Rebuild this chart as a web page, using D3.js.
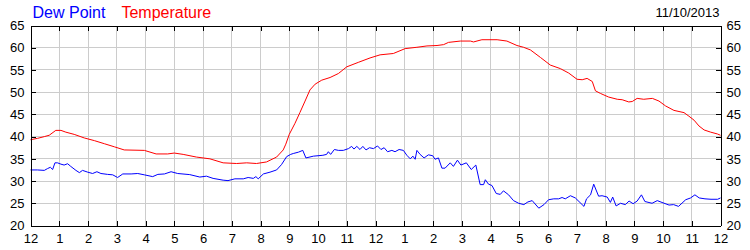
<!DOCTYPE html>
<html>
<head>
<meta charset="utf-8">
<script src="https://cdn.jsdelivr.net/npm/d3@7"></script>
<style>
  body { margin: 0; background: #fff; }
  svg { display: block; font-family: "Liberation Sans", Arial, sans-serif; }
</style>
</head>
<body>
<div id="chart"></div>
<script>
// hour labels along the bottom (12 am .. 12 am next day)
const hourLabels = ["12","1","2","3","4","5","6","7","8","9","10","11",
                    "12","1","2","3","4","5","6","7","8","9","10","11","12"];
const yTicks = [20, 25, 30, 35, 40, 45, 50, 55, 60, 65];
const chartDate = "11/10/2013";

// temperature readings: hours since midnight / deg F
const tempHours = [0, 0.24, 0.48, 0.65, 0.88, 1.06, 1.23, 1.52, 1.87, 2.22, 2.57, 2.92, 3.26, 3.96,
  4.37, 4.77, 5.0, 5.31, 5.77, 6.24, 6.7, 7.17, 7.52, 7.86, 8.21, 8.56, 8.79, 8.88, 9.0, 9.2, 9.37,
  9.55, 9.72, 9.9, 10.13, 10.42, 10.71, 11.0, 11.4, 11.81, 12.16, 12.62, 13.03, 13.44, 13.79, 14.14,
  14.37, 14.54, 14.95, 15.3, 15.41, 15.7, 16.23, 16.57, 16.92, 17.15, 17.39, 17.74, 18.08, 18.43,
  18.72, 19.01, 19.19, 19.36, 19.54, 19.65, 19.83, 20.11, 20.41, 20.58, 20.81, 20.93, 21.1, 21.33,
  21.63, 21.86, 22.09, 22.38, 22.73, 22.9, 23.08, 23.25, 23.43, 23.66, 23.89, 24.0];
const tempValues = [39.3, 39.6, 40.0, 40.3, 41.4, 41.4, 41.0, 40.5, 39.7, 39.1, 38.4, 37.7, 37.0, 36.9,
  36.1, 36.1, 36.3, 36.0, 35.4, 35.0, 34.1, 33.95, 34.1, 33.95, 34.3, 35.4, 37.0, 38.3, 40.5, 43.0, 45.4,
  48.0, 50.5, 51.8, 52.7, 53.3, 54.2, 55.7, 56.7, 57.7, 58.4, 58.7, 59.8, 60.1, 60.4, 60.5,
  60.7, 61.2, 61.5, 61.5, 61.3, 61.8, 61.8, 61.5, 60.5, 60.1, 59.5, 57.8, 56.1, 55.3,
  54.3, 52.9, 52.8, 53.1, 52.4, 50.3, 49.7, 48.9, 48.4, 48.3, 47.8, 47.9, 48.6, 48.4,
  48.6, 48.0, 46.9, 45.9, 45.4, 44.6, 43.7, 42.4, 41.5, 41.0, 40.6, 40.3];

// dew point readings
const dewHours = [0, 0.24, 0.48, 0.59, 0.69, 0.77, 0.85, 0.94, 1.06, 1.17, 1.29, 1.4, 1.58, 1.7, 1.81,
  1.99, 2.16, 2.31, 2.45, 2.68, 2.86, 3.03, 3.21, 3.5, 3.73, 3.96, 4.25, 4.43, 4.66, 4.89, 5.12, 5.54,
  5.89, 6.12, 6.35, 6.7, 6.87, 7.11, 7.4, 7.57, 7.75, 7.84, 7.92, 8.1, 8.33, 8.56, 8.73, 8.91, 9.05,
  9.14, 9.32, 9.47, 9.58, 9.84, 10.17, 10.3, 10.36, 10.44, 10.57, 10.71, 10.88, 11.06, 11.17, 11.25,
  11.35, 11.46, 11.56, 11.67, 11.79, 11.93, 12.07, 12.19, 12.3, 12.42, 12.57, 12.68, 12.82, 12.97,
  13.09, 13.21, 13.3, 13.38, 13.44, 13.55, 13.69, 13.84, 13.99, 14.07, 14.19, 14.31, 14.42, 14.6,
  14.71, 14.85, 14.97, 15.16, 15.33, 15.49, 15.64, 15.76, 15.82, 15.93, 16.05, 16.2, 16.34, 16.45,
  16.63, 16.8, 16.98, 17.16, 17.3, 17.45, 17.68, 17.86, 18.02, 18.2, 18.37, 18.49, 18.6, 18.78, 18.95,
  19.25, 19.34, 19.48, 19.59, 19.76, 19.88, 20.06, 20.17, 20.25, 20.37, 20.52, 20.69, 20.82, 20.96,
  21.1, 21.25, 21.37, 21.62, 21.8, 22.0, 22.21, 22.37, 22.54, 22.79, 22.96, 23.11, 23.26, 23.46,
  23.67, 23.9, 24.0];
const dewValues = [32.5, 32.5, 32.4, 32.8, 33.1, 32.6, 34.1, 34.1, 33.8, 33.6, 33.9, 33.3, 32.4, 31.9, 32.4,
  32.0, 31.7, 32.1, 31.7, 31.5, 31.4, 30.8, 31.6, 31.6, 31.7, 31.4, 31.0, 31.5, 31.6, 32.1, 31.7, 31.45,
  30.9, 31.1, 30.6, 30.2, 30.1, 30.5, 30.5, 30.8, 30.6, 31.0, 30.5, 31.6, 32.0, 32.5, 33.7, 35.5, 36.0,
  36.2, 36.5, 36.9, 35.2, 35.6, 35.8, 36.0, 36.6, 36.0, 37.1, 36.9, 36.9, 37.3, 37.8, 37.2,
  37.8, 37.1, 37.8, 37.0, 37.5, 37.3, 37.9, 37.1, 37.5, 36.6, 36.9, 36.6, 37.1, 36.9,
  35.8, 35.0, 35.6, 34.9, 36.9, 36.0, 35.2, 35.9, 35.7, 34.9, 35.2, 32.9, 32.9, 34.1,
  33.3, 34.7, 33.6, 34.1, 32.6, 33.6, 29.2, 29.2, 30.3, 29.3, 29.0, 27.2, 27.0, 27.8,
  26.9, 25.6, 25.0, 24.7, 25.3, 25.6, 23.9, 24.7, 25.8, 26.0, 26.0, 26.3, 26.0, 26.7, 26.2,
  24.3, 26.0, 26.9, 29.3, 26.6, 26.7, 26.4, 25.2, 26.4, 24.4, 25.0, 24.7, 25.5, 24.9,
  25.5, 26.9, 25.4, 25.0, 25.6, 25.1, 24.6, 24.7, 24.3, 25.8, 26.2, 26.9, 26.2, 26.0,
  25.9, 25.9, 26.2];

// set the dimensions and margins of the graph
const margin = {top: 25, right: 30, bottom: 25, left: 30},
  width = 750 - margin.left - margin.right,
  height = 250 - margin.top - margin.bottom;

const svg = d3.select("#chart")
  .append("svg")
  .attr("width", width + margin.left + margin.right)
  .attr("height", height + margin.top + margin.bottom)
  .append("g")
  .attr("transform", `translate(${margin.left + 0.5},${margin.top + 0.5})`);

const x = d3.scaleLinear().domain([0, 24]).range([0, width]);
const y = d3.scaleLinear().domain([20, 65]).range([height, 0]);
const hours = d3.range(0, 25);

// grid
svg.append("g")
  .selectAll("line.v")
  .data(hours.slice(1, -1))
  .join("line")
  .attr("x1", d => x(d)).attr("x2", d => x(d))
  .attr("y1", 0).attr("y2", height)
  .attr("stroke", "#cccccc")
  .attr("shape-rendering", "crispEdges");
svg.append("g")
  .selectAll("line.h")
  .data(yTicks.slice(1, -1))
  .join("line")
  .attr("x1", 0).attr("x2", width)
  .attr("y1", d => y(d)).attr("y2", d => y(d))
  .attr("stroke", "#cccccc")
  .attr("shape-rendering", "crispEdges");

// the two lines
const line = d3.line()
  .x(d => x(d[0]))
  .y(d => y(d[1]));

svg.append("path")
  .datum(d3.zip(dewHours, dewValues))
  .attr("fill", "none")
  .attr("stroke", "#0000ff")
  .attr("stroke-width", 1)
  .attr("d", line);

svg.append("path")
  .datum(d3.zip(tempHours, tempValues))
  .attr("fill", "none")
  .attr("stroke", "#ff0000")
  .attr("stroke-width", 1)
  .attr("d", line);

// axes, ticks all point inward
function styleAxis(g) {
  g.selectAll("path, line").attr("stroke", "#000").attr("shape-rendering", "crispEdges");
  g.selectAll("text").attr("fill", "#000");
  g.attr("font-family", "'Liberation Sans', Arial, sans-serif").attr("font-size", 13);
}

svg.append("g")
  .call(d3.axisLeft(y).tickValues(yTicks).tickSize(-5).tickSizeOuter(0).tickPadding(6))
  .call(styleAxis);

svg.append("g")
  .attr("transform", `translate(${width},0)`)
  .call(d3.axisRight(y).tickValues(yTicks).tickSize(-5).tickSizeOuter(0).tickPadding(6))
  .call(styleAxis);

svg.append("g")
  .attr("transform", `translate(0,${height})`)
  .call(d3.axisBottom(x).tickValues(hours).tickFormat((d, i) => hourLabels[i])
    .tickSize(-5).tickSizeOuter(0).tickPadding(8))
  .call(styleAxis);

svg.append("g")
  .call(d3.axisTop(x).tickValues(hours).tickFormat("").tickSize(-5).tickSizeOuter(0))
  .call(styleAxis);

// legend / title
const title = svg.append("text")
  .attr("x", 2)
  .attr("y", -7.5)
  .attr("font-size", 16);
title.append("tspan").attr("fill", "#0000ff").text("Dew Point");
title.append("tspan").attr("fill", "#ff0000").attr("dx", 16).text("Temperature");

svg.append("text")
  .attr("x", width - 1)
  .attr("y", -9)
  .attr("text-anchor", "end")
  .attr("font-size", 13)
  .attr("fill", "#000")
  .text(chartDate);
</script>
</body>
</html>
